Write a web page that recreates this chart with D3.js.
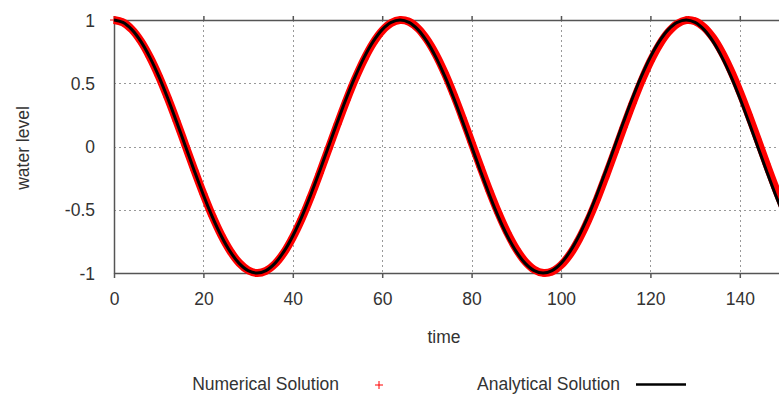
<!DOCTYPE html>
<html>
<head>
<meta charset="utf-8">
<script src="https://cdn.jsdelivr.net/npm/d3@7"></script>
<style>
  html, body { margin: 0; padding: 0; background: #fff; }
  svg { display: block; font-family: "Liberation Sans", Arial, sans-serif; }
  .tick text { fill: #333; font-size: 17.5px; }
</style>
</head>
<body>
<svg id="chart" width="779" height="397"></svg>
<script>
// time samples (every 2 units)
const times = d3.range(0, 151, 2);

// analytical solution
const analytical = [
  1, 0.981, 0.924, 0.831, 0.707, 0.556, 0.383, 0.195, 0, -0.195, -0.383, -0.556, -0.707, -0.831, -0.924, -0.981,
  -1, -0.981, -0.924, -0.831, -0.707, -0.556, -0.383, -0.195, 0, 0.195, 0.383, 0.556, 0.707, 0.831, 0.924, 0.981,
  1, 0.981, 0.924, 0.831, 0.707, 0.556, 0.383, 0.195, 0, -0.195, -0.383, -0.556, -0.707, -0.831, -0.924, -0.981,
  -1, -0.981, -0.924, -0.831, -0.707, -0.556, -0.383, -0.195, 0, 0.195, 0.383, 0.556, 0.707, 0.831, 0.924, 0.981,
  1, 0.981, 0.924, 0.831, 0.707, 0.556, 0.383, 0.195, 0, -0.195, -0.383, -0.556
];

// numerical solution (red +), lags slightly behind
const numerical = [
  1, 0.981, 0.925, 0.833, 0.709, 0.559, 0.387, 0.201, 0.006, -0.188, -0.375, -0.549, -0.701, -0.826, -0.920, -0.978,
  -1, -0.983, -0.929, -0.840, -0.718, -0.570, -0.399, -0.213, -0.019, 0.176, 0.364, 0.538, 0.691, 0.819, 0.915, 0.976,
  1, 0.986, 0.934, 0.846, 0.727, 0.580, 0.410, 0.225, 0.031, -0.163, -0.352, -0.527, -0.682, -0.811, -0.910, -0.973,
  -0.999, -0.988, -0.938, -0.853, -0.735, -0.590, -0.422, -0.237, -0.044, 0.151, 0.340, 0.516, 0.673, 0.804, 0.904, 0.970,
  0.999, 0.990, 0.943, 0.860, 0.744, 0.600, 0.433, 0.249, 0.057, -0.139, -0.328, -0.506
];

const xTicks = [0, 20, 40, 60, 80, 100, 120, 140];
const yTicks = [-1, -0.5, 0, 0.5, 1];

const svg = d3.select('#chart');
const mLeft = 114, mTop = 20, mBottom = 273;

const x = d3.scaleLinear().domain([0, 150]).range([mLeft, mLeft + 150 * 4.47]);
const y = d3.scaleLinear().domain([-1, 1]).range([mBottom, mTop]);

// grid
const grid = svg.append('g').attr('stroke', '#999').attr('stroke-width', 1).attr('stroke-dasharray', '2,3');
grid.selectAll('.gx').data(xTicks.slice(1)).join('line')
  .attr('x1', d => Math.round(x(d)) + 0.5).attr('x2', d => Math.round(x(d)) + 0.5)
  .attr('y1', mTop).attr('y2', mBottom);
grid.selectAll('.gy').data(yTicks.slice(1, -1)).join('line')
  .attr('x1', mLeft).attr('x2', 779)
  .attr('y1', d => Math.round(y(d)) + 0.5).attr('y2', d => Math.round(y(d)) + 0.5);

// axes
const xAxis = svg.append('g')
  .attr('transform', `translate(0,${mBottom})`)
  .call(d3.axisBottom(x).tickValues(xTicks).tickFormat(d => String(d)).tickSizeInner(5).tickSizeOuter(0).tickPadding(15));
const xTop = svg.append('g')
  .attr('transform', `translate(0,${mTop})`)
  .call(d3.axisTop(x).tickValues(xTicks).tickFormat('').tickSizeInner(4).tickSizeOuter(0));
const yAxis = svg.append('g')
  .attr('transform', `translate(${mLeft},0)`)
  .call(d3.axisLeft(y).tickValues(yTicks).tickFormat(d => String(d)).tickSizeInner(0).tickSizeOuter(0).tickPadding(19));

[xAxis, xTop, yAxis].forEach(a => {
  a.select('.domain').attr('stroke', '#555').attr('stroke-width', 1.5);
  a.selectAll('.tick line').attr('stroke', '#555').attr('stroke-width', 1.5);
  a.selectAll('.tick text').attr('font-family', '"Liberation Sans", Arial, sans-serif');
});
yAxis.selectAll('.tick text').attr('dy', '0.35em');

// numerical solution: dense red crosses form a band
const pts = times.map((t, i) => [t, numerical[i]]);
svg.append('path')
  .datum(pts)
  .attr('fill', 'none')
  .attr('stroke', '#ff0000')
  .attr('stroke-width', 8)
  .attr('d', d3.line().x(d => x(d[0])).y(d => y(d[1])).curve(d3.curveCatmullRom));
svg.append('g').selectAll('path').data(pts).join('path')
  .attr('transform', d => `translate(${x(d[0])},${y(d[1])})`)
  .attr('d', 'M-4,0H4M0,-4V4')
  .attr('stroke', '#ff0000').attr('stroke-width', 1);

// analytical solution
svg.append('path')
  .datum(times.map((t, i) => [t, analytical[i]]))
  .attr('fill', 'none')
  .attr('stroke', '#000')
  .attr('stroke-width', 3)
  .attr('d', d3.line().x(d => x(d[0])).y(d => y(d[1])).curve(d3.curveCatmullRom));

// axis titles
svg.append('text')
  .attr('x', 444).attr('y', 343)
  .attr('text-anchor', 'middle')
  .attr('font-size', 17.5).attr('fill', '#333')
  .text('time');
svg.append('text')
  .attr('transform', 'translate(29,148) rotate(-90)')
  .attr('text-anchor', 'middle')
  .attr('font-size', 17.5).attr('fill', '#333')
  .text('water level');

// legend
const legend = svg.append('g').attr('font-size', 17.5).attr('fill', '#333');
legend.append('text').attr('x', 339).attr('y', 390).attr('text-anchor', 'end').text('Numerical Solution');
legend.append('path').attr('d', 'M375,385H383M379,381V389').attr('stroke', '#ff0000').attr('stroke-width', 1);
legend.append('text').attr('x', 620).attr('y', 390).attr('text-anchor', 'end').text('Analytical Solution');
legend.append('line').attr('x1', 636).attr('x2', 686).attr('y1', 384.5).attr('y2', 384.5)
  .attr('stroke', '#000').attr('stroke-width', 2.5);
</script>
</body>
</html>
